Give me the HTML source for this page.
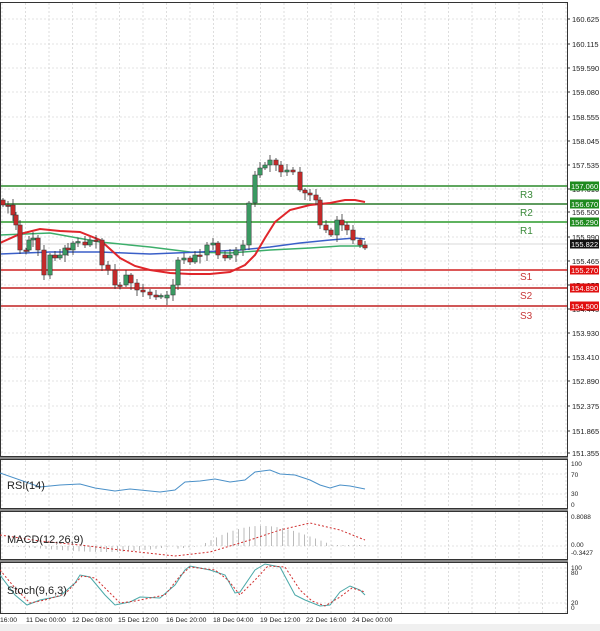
<!DOCTYPE html>
<html><head><meta charset="utf-8"><style>
html,body{margin:0;padding:0;background:#fff;}
svg{display:block;font-family:"Liberation Sans",sans-serif;}
</style></head><body>
<svg id="s" width="600" height="631" viewBox="0 0 600 631" xmlns="http://www.w3.org/2000/svg">
<rect width="600" height="631" fill="#fff"/>
<g id="grid" stroke="#c8c8c8" stroke-width="0.6" stroke-dasharray="2,2"></g>
<g id="levels"></g>
<g id="ma" fill="none" stroke-width="1.5">
<polyline stroke="#3cae6a" points="0,235 50,233 100,242 150,247 190,252 230,253 270,250 310,248 340,246 365,246"/>
<polyline stroke="#3a5fc8" points="0,254 50,252 100,252 150,254 200,252 240,250 270,247 300,243 330,240 355,238 365,239"/>
<polyline stroke="#e0262b" stroke-width="2" points="0,243 20,234 40,229 60,231 80,232 100,240 120,258 135,266 150,270 170,273 190,274 210,274 230,272 245,265 255,255 265,238 275,222 290,210 310,205 330,203 345,200 355,200 365,202"/>
</g>
<g id="candles"></g>
<g stroke="#333" fill="none" stroke-width="1">
<rect x="0.5" y="2.5" width="567" height="454"/>
<rect x="0.5" y="459.5" width="567" height="49"/>
<rect x="0.5" y="511.5" width="567" height="48"/>
<rect x="0.5" y="562.5" width="567" height="51"/>
</g>
<g fill="#888"><rect x="0" y="457" width="568" height="2"/><rect x="0" y="509" width="568" height="2"/><rect x="0" y="560" width="568" height="2"/></g>
<g id="axis" font-size="7.5" fill="#222"></g>
<g id="tags" font-size="7.5"></g>
<g font-size="10" fill="#3a8a3a"><text x="520" y="198">R3</text><text x="520" y="216">R2</text><text x="520" y="234">R1</text></g>
<g font-size="10" fill="#c83a3a"><text x="520" y="280">S1</text><text x="520" y="299">S2</text><text x="520" y="319">S3</text></g>
<polyline fill="none" stroke="#4a90c8" stroke-width="1" points="0,473 40,487 60,485 80,484 95,488 115,491 130,489 160,492 175,490 185,482 200,481 215,479 230,482 245,480 255,472 270,470 280,474 295,475 310,480 320,485 330,488 340,485 350,486 365,489"/>
<text x="7" y="489" font-size="11" fill="#222">RSI(14)</text>
<g font-size="6.5" fill="#222"><text x="571" y="466">100</text><text x="571" y="477">70</text><text x="571" y="496">30</text><text x="571" y="507">0</text></g>
<g id="hist" stroke="#aaa" stroke-width="0.8"></g>
<polyline fill="none" stroke="#d03030" stroke-width="1" stroke-dasharray="2,2" points="0,535 40,541 80,545 120,550 175,556 210,552 250,540 280,530 310,523 340,530 365,540"/>
<text x="7" y="543" font-size="11" fill="#222">MACD(12,26,9)</text>
<g font-size="6.5" fill="#222"><text x="571" y="519">0.8088</text><text x="571" y="547">0.00</text><text x="571" y="555">-0.3427</text></g>
<polyline fill="none" stroke="#4aa8a8" stroke-width="1" points="0,575 15,595 27,605 40,600 60,596 75,583 80,575 90,577 105,595 115,605 130,602 140,597 160,598 175,585 185,570 190,566 210,570 225,575 235,593 240,592 255,570 265,564 280,567 295,595 305,600 320,606 330,605 340,592 350,586 360,590 365,595"/>
<polyline fill="none" stroke="#d03030" stroke-width="1" stroke-dasharray="2,2" points="0,570 15,588 30,603 45,600 65,594 82,576 95,578 110,593 120,603 135,601 150,598 165,595 180,576 190,567 215,570 228,580 240,595 255,580 268,566 285,567 300,590 312,601 325,606 340,597 352,588 365,592"/>
<text x="7" y="594" font-size="11" fill="#222">Stoch(9,6,3)</text>
<g font-size="6.5" fill="#222"><text x="571" y="570">100</text><text x="571" y="575">80</text><text x="571" y="605">20</text><text x="571" y="610">0</text></g>
<g id="time" font-size="6.8" fill="#222"></g>
<rect x="0" y="624" width="600" height="7" fill="#f0f0f0"/>
</svg>
<script>
var NS="http://www.w3.org/2000/svg";
function el(p,t,a,txt){var e=document.createElementNS(NS,t);for(var k in a)e.setAttribute(k,a[k]);if(txt)e.textContent=txt;document.getElementById(p).appendChild(e);return e;}
for(var x=2;x<567;x+=23.5){[[3,456],[460,508],[512,559],[563,613]].forEach(function(r){el('grid','line',{x1:x,y1:r[0],x2:x,y2:r[1]});});}
var py=[19,44,68,92,117,141,165,189,212,237,261,285,309,333,357,381,406,431,453];
for(var i=0;i<py.length;i++)el('grid','line',{x1:0,y1:py[i],x2:567,y2:py[i]});
[474,494,568,603,546].forEach(function(y){el('grid','line',{x1:0,y1:y,x2:567,y2:y});});
var pl=["160.625","160.115","159.590","159.080","158.555","158.045","157.535","157.010","156.500","155.990","155.465","154.955","154.445","153.930","153.410","152.890","152.375","151.865","151.355"];
for(var i=0;i<py.length;i++){el('axis','line',{x1:567,y1:py[i],x2:570,y2:py[i],stroke:'#333'});el('axis','text',{x:572,y:py[i]+3},pl[i]);}
[[186,'#2a8a2a'],[204,'#2a7a2a'],[222,'#2a9a2a'],[270,'#d02020'],[288,'#c02020'],[306,'#c02020']].forEach(function(l){el('levels','line',{x1:0,y1:l[0],x2:567,y2:l[0],stroke:l[1],'stroke-width':1.6});});
el('levels','line',{x1:0,y1:244,x2:567,y2:244,stroke:'#ccc','stroke-width':0.7});
[[186,'157.060','#1e8a1e'],[204,'156.670','#1e8a1e'],[222,'156.290','#1e8a1e'],[244,'155.822','#111'],[270,'155.270','#e01010'],[288,'154.890','#e01010'],[306,'154.500','#e01010']].forEach(function(t){el('tags','rect',{x:570,y:t[0]-4.5,width:29,height:9,fill:t[2]});el('tags','text',{x:571,y:t[0]+3,fill:'#fff'},t[1]);});
var c=[[3,205],[8,205],[13,215],[16,225],[20,250],[26,250],[29,240],[33,238],[38,250],[44,275],[50,255],[55,258],[60,255],[65,248],[68,250],[73,243],[78,242],[85,245],[90,240],[96,240],[102,265],[108,270],[115,285],[120,285],[126,275],[131,283],[137,290],[143,292],[150,295],[156,297],[161,298],[167,295],[173,285],[178,260],[184,258],[190,262],[195,255],[200,255],[207,245],[213,243],[218,255],[225,258],[230,255],[236,250],[243,245],[249,203],[255,175],[260,168],[265,165],[270,160],[276,165],[281,172],[287,170],[293,172],[300,190],[305,193],[310,195],[316,200],[320,225],[326,230],[331,235],[337,220],[342,225],[347,230],[353,240],[360,245],[365,248]];
var prev=200;
c.forEach(function(d,i){var o=prev,cl=d[1];if(Math.abs(o-cl)<1.5)cl=o+(i%2?1.5:-1.5);var up=cl<o;var top=Math.min(o,cl),bot=Math.max(o,cl);
var hi=top-2-(i*7%5),lo=bot+2+(i*11%6);
el('candles','line',{x1:d[0],y1:hi,x2:d[0],y2:lo,stroke:'#333','stroke-width':0.8});
el('candles','rect',{x:d[0]-2.2,y:top,width:4.4,height:Math.max(bot-top,1.5),fill:up?'#3a9a62':'#c42a2a',stroke:'#333','stroke-width':0.5});prev=d[1];});
for(var x=2;x<=365;x+=5.5){var v;if(x<175)v=546+7*Math.sin(Math.PI*x/175)*(x/175+0.3);else if(x<200)v=546+(200-x)/25*3;else if(x<335)v=546-24*Math.sin(Math.PI*(x-200)/135)*(1-(x-200)/400);else v=546-1;el('hist','line',{x1:x,y1:546,x2:x,y2:v});}
[[0,"16:00"],[26,"11 Dec 00:00"],[72,"12 Dec 08:00"],[118,"15 Dec 12:00"],[166,"16 Dec 20:00"],[213,"18 Dec 04:00"],[260,"19 Dec 12:00"],[306,"22 Dec 16:00"],[352,"24 Dec 00:00"]].forEach(function(t){el('time','text',{x:t[0],y:622},t[1]);});
</script>
</body></html>
